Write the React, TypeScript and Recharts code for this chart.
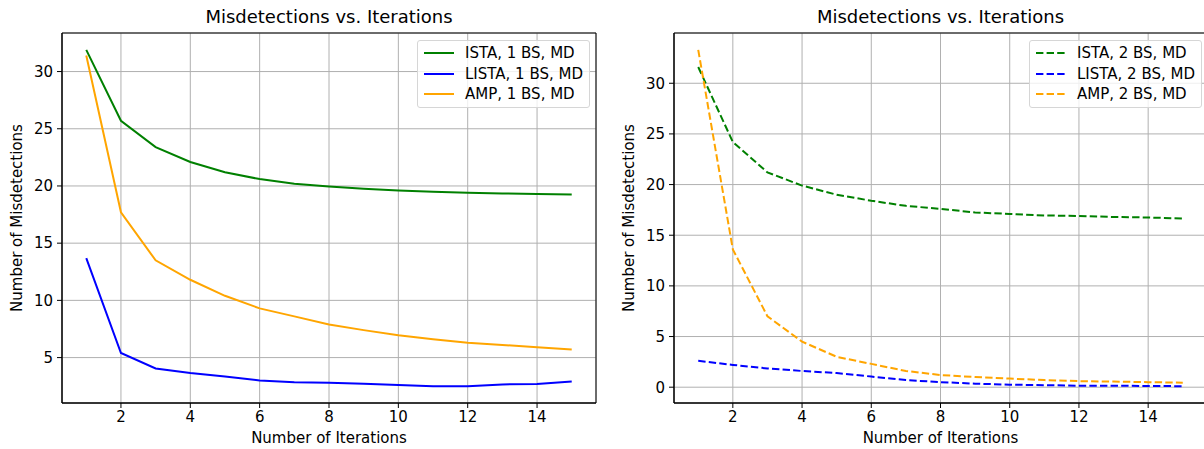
import React from 'react';
import {
  LineChart,
  Line,
  XAxis,
  YAxis,
  CartesianGrid,
  ReferenceArea,
  Label,
} from 'recharts';

const ITERATIONS = [1, 2, 3, 4, 5, 6, 7, 8, 9, 10, 11, 12, 13, 14, 15];

// 1 BS panel
const ISTA_1BS = [31.9, 25.7, 23.4, 22.1, 21.2, 20.6, 20.2, 19.95, 19.75, 19.6, 19.5, 19.4, 19.35, 19.3, 19.25];
const LISTA_1BS = [13.7, 5.4, 4.05, 3.65, 3.35, 3.0, 2.85, 2.8, 2.72, 2.6, 2.5, 2.5, 2.65, 2.7, 2.9];
const AMP_1BS = [31.4, 17.7, 13.5, 11.8, 10.4, 9.3, 8.6, 7.9, 7.4, 6.95, 6.6, 6.3, 6.1, 5.9, 5.7];

// 2 BS panel
const ISTA_2BS = [31.6, 24.2, 21.2, 19.9, 19.0, 18.4, 17.9, 17.6, 17.25, 17.1, 16.95, 16.9, 16.8, 16.75, 16.65];
const LISTA_2BS = [2.6, 2.2, 1.85, 1.6, 1.4, 1.05, 0.7, 0.5, 0.35, 0.25, 0.2, 0.15, 0.15, 0.12, 0.1];
const AMP_2BS = [33.3, 13.6, 7.0, 4.5, 3.0, 2.3, 1.6, 1.2, 1.0, 0.85, 0.7, 0.6, 0.55, 0.5, 0.45];

const X_TICKS = [2, 4, 6, 8, 10, 12, 14];
const Y_TICKS_1BS = [5, 10, 15, 20, 25, 30];
const Y_TICKS_2BS = [0, 5, 10, 15, 20, 25, 30];

const TITLE = 'Misdetections vs. Iterations';
const X_LABEL = 'Number of Iterations';
const Y_LABEL = 'Number of Misdetections';

const FONT = 'DejaVu Sans';
const FS = 15;
const COLORS = { ista: '#008000', lista: '#0000ff', amp: '#ffa500' };

type Series = { key: string; name: string; values: number[]; color: string };

function buildRows(series: Series[]) {
  return ITERATIONS.map((it, i) => {
    const row: Record<string, number> = { it };
    series.forEach((s) => {
      row[s.key] = s.values[i];
    });
    return row;
  });
}

interface PanelProps {
  left: number;
  width: number;
  yAxisWidth: number;
  marginRight: number;
  series: Series[];
  yDomain: [number, number];
  yTicks: number[];
  dashed: boolean;
  yLabelDx: number;
  legendLeft: number;
}

const tickStyle = { fill: '#000', fontSize: FS, fontFamily: FONT };

function Panel(p: PanelProps) {
  const rows = buildRows(p.series);
  const dash = p.dashed ? '7.4 3.2' : undefined;
  const plotLeft = p.yAxisWidth;
  const plotRight = p.width - p.marginRight;
  return (
    <div style={{ position: 'absolute', left: p.left, top: 0, width: p.width, height: 449 }}>
      <div
        style={{
          position: 'absolute',
          top: 6,
          left: plotLeft,
          width: plotRight - plotLeft,
          textAlign: 'center',
          fontSize: 18,
          lineHeight: '22px',
          color: '#000',
        }}
      >
        {TITLE}
      </div>
      <LineChart width={p.width} height={449} data={rows} margin={{ top: 33, right: p.marginRight, bottom: 0, left: 0 }}>
        <CartesianGrid stroke="#b0b0b0" strokeWidth={1} />
        <XAxis
          dataKey="it"
          type="number"
          domain={[0.3, 15.7]}
          ticks={X_TICKS}
          allowDataOverflow
          height={46}
          tickSize={5}
          tickMargin={3}
          tick={tickStyle}
          tickLine={{ stroke: '#000' }}
          axisLine={{ stroke: '#000' }}
        >
          <Label value={X_LABEL} position="center" dy={12} style={{ fill: '#000', fontSize: FS, fontFamily: FONT }} />
        </XAxis>
        <YAxis
          type="number"
          domain={p.yDomain}
          ticks={p.yTicks}
          allowDataOverflow
          width={p.yAxisWidth}
          tickSize={5}
          tickMargin={4}
          tick={tickStyle}
          tickLine={{ stroke: '#000' }}
          axisLine={{ stroke: '#000' }}
        >
          <Label
            value={Y_LABEL}
            position="center"
            angle={-90}
            dx={p.yLabelDx}
            style={{ fill: '#000', fontSize: FS, fontFamily: FONT, textAnchor: 'middle' }}
          />
        </YAxis>
        <ReferenceArea
          x1={0.3}
          x2={15.7}
          y1={p.yDomain[0]}
          y2={p.yDomain[1]}
          fill="none"
          fillOpacity={0}
          stroke="#000"
          strokeWidth={1}
        />
        {p.series.map((s) => (
          <Line
            key={s.key}
            dataKey={s.key}
            name={s.name}
            type="linear"
            stroke={s.color}
            strokeWidth={2}
            strokeDasharray={dash}
            dot={false}
            activeDot={false}
            isAnimationActive={false}
          />
        ))}
      </LineChart>
      <div
        style={{
          position: 'absolute',
          left: p.legendLeft,
          top: 40,
          width: 173,
          height: 68,
          boxSizing: 'border-box',
          border: '1px solid #d6d6d6',
          borderRadius: 3,
          background: 'rgba(255,255,255,0.8)',
        }}
      >
        {p.series.map((s, i) => (
          <div
            key={s.key}
            style={{
              position: 'absolute',
              left: 0,
              top: 2 + i * 20.7,
              height: 20,
              display: 'flex',
              alignItems: 'center',
              whiteSpace: 'nowrap',
            }}
          >
            <svg width={47} height={20} style={{ display: 'block' }}>
              <line x1={6} y1={10} x2={36} y2={10} stroke={s.color} strokeWidth={2} strokeDasharray={dash} />
            </svg>
            <span style={{ fontSize: FS, color: '#000' }}>{s.name}</span>
          </div>
        ))}
      </div>
    </div>
  );
}

export default function App() {
  const series1: Series[] = [
    { key: 'ista', name: 'ISTA, 1 BS, MD', values: ISTA_1BS, color: COLORS.ista },
    { key: 'lista', name: 'LISTA, 1 BS, MD', values: LISTA_1BS, color: COLORS.lista },
    { key: 'amp', name: 'AMP, 1 BS, MD', values: AMP_1BS, color: COLORS.amp },
  ];
  const series2: Series[] = [
    { key: 'ista', name: 'ISTA, 2 BS, MD', values: ISTA_2BS, color: COLORS.ista },
    { key: 'lista', name: 'LISTA, 2 BS, MD', values: LISTA_2BS, color: COLORS.lista },
    { key: 'amp', name: 'AMP, 2 BS, MD', values: AMP_2BS, color: COLORS.amp },
  ];
  return (
    <div
      style={{
        position: 'absolute',
        left: 0,
        top: 0,
        width: 1204,
        height: 449,
        overflow: 'hidden',
        background: '#fff',
        fontFamily: FONT,
      }}
    >
      <Panel
        left={0}
        width={600}
        yAxisWidth={62}
        marginRight={4}
        series={series1}
        yDomain={[1.03, 33.37]}
        yTicks={Y_TICKS_1BS}
        dashed={false}
        yLabelDx={-14}
        legendLeft={417}
      />
      <Panel
        left={600}
        width={612}
        yAxisWidth={74}
        marginRight={5}
        series={series2}
        yDomain={[-1.56, 34.96]}
        yTicks={Y_TICKS_2BS}
        dashed={true}
        yLabelDx={-8}
        legendLeft={429}
      />
    </div>
  );
}
